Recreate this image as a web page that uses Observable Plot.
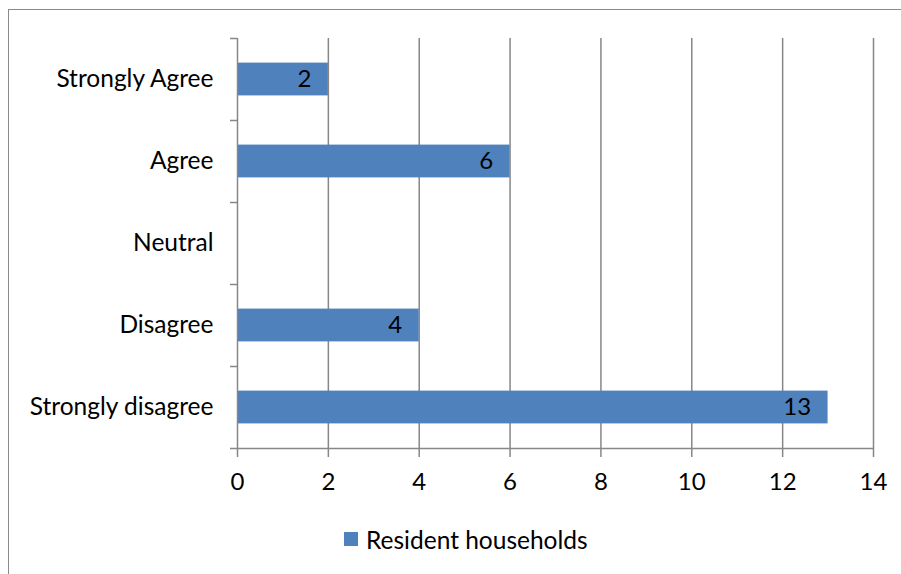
<!DOCTYPE html>
<html>
<head>
<meta charset="utf-8">
<script src="https://cdn.jsdelivr.net/npm/d3@7"></script>
<script src="https://cdn.jsdelivr.net/npm/@observablehq/plot@0.6"></script>
<style>
  html, body { margin: 0; padding: 0; background: #fff; overflow: hidden; width: 901px; height: 574px; }
  #frame { position: absolute; left: 8px; top: 9px; width: 1000px; height: 1000px; border: 1.5px solid #8a8a8a; box-sizing: border-box; }
  #chart { position: absolute; left: 0; top: 0; }
  #legend { position: absolute; left: 344px; top: 524px; height: 30px; display: flex; align-items: center; font-family: Lato, sans-serif; font-size: 24.5px; color: #000; }
  #legend .sw { width: 14px; height: 14px; background: #4F81BD; margin-right: 8px; }
</style>
</head>
<body>
<div id="frame"></div>
<div id="chart"></div>
<div id="legend"><div class="sw"></div><span>Resident households</span></div>
<script>
// categories listed bottom to top
const categories = ["Strongly disagree", "Disagree", "Neutral", "Agree", "Strongly Agree"];
const values = [13, 4, 0, 6, 2];
const xTicks = [0, 2, 4, 6, 8, 10, 12, 14];
const seriesName = "Resident households";

const data = categories.map((c, i) => ({category: c, value: values[i], idx: i}));
const shown = data.filter(d => d.value > 0);
const boundaries = d3.range(categories.length + 1);
const centers = categories.map((c, i) => i + 0.5);

const gray = "#878787";

const chart = Plot.plot({
  width: 901,
  height: 500,
  marginLeft: 237,
  marginRight: 28,
  marginTop: 38,
  marginBottom: 52,
  style: {fontFamily: "Lato, sans-serif", fontSize: "24px", color: "#000", background: "transparent", overflow: "visible"},
  x: {domain: [0, 14]},
  y: {domain: [0, categories.length]},
  marks: [
    Plot.ruleX(xTicks.filter(t => t > 0), {stroke: gray, strokeWidth: 1.5}),
    Plot.rect(shown, {x1: 0, x2: "value", y1: d => d.idx + 0.3, y2: d => d.idx + 0.7, fill: "#4F81BD"}),
    Plot.text(shown, {x: "value", y: d => d.idx + 0.5, text: d => String(d.value), textAnchor: "end", dx: -17, fill: "#000", fontSize: 24}),
    Plot.ruleX([0], {stroke: gray, strokeWidth: 1.5}),
    Plot.ruleY([0], {stroke: gray, strokeWidth: 1.5}),
    Plot.axisX({ticks: xTicks, tickSize: 9, tickPadding: 15, stroke: gray, strokeWidth: 1.5, fill: "#000", fontSize: 24, label: null, tickFormat: d => String(d)}),
    Plot.axisY({ticks: boundaries, tickSize: 7, stroke: gray, strokeWidth: 1.5, tickFormat: () => "", label: null}),
    Plot.axisY({ticks: centers, tickSize: 0, tickPadding: 24, fill: "#000", fontSize: 24.5, label: null, tickFormat: v => categories[Math.floor(v)]})
  ]
});
document.getElementById("chart").appendChild(chart);
</script>
</body>
</html>
